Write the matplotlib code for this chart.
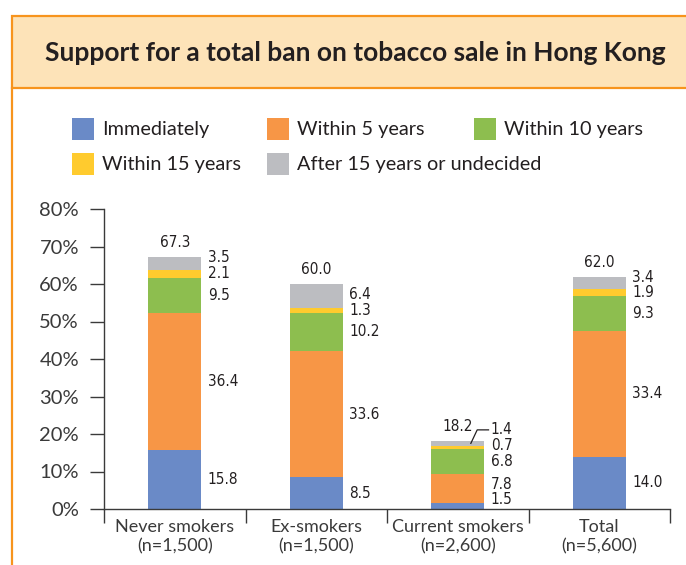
import numpy as np
import matplotlib.pyplot as plt
from matplotlib import font_manager as fm
from matplotlib.patches import Rectangle
from matplotlib.lines import Line2D

# ---------- data ----------
groups = ["Never smokers\n(n=1,500)", "Ex-smokers\n(n=1,500)",
          "Current smokers\n(n=2,600)", "Total\n(n=5,600)"]
series = ["Immediately", "Within 5 years", "Within 10 years",
          "Within 15 years", "After 15 years or undecided"]
immediately = [15.8, 8.5, 1.5, 14.0]
within_5 = [36.4, 33.6, 7.8, 33.4]
within_10 = [9.5, 10.2, 6.8, 9.3]
within_15 = [2.1, 1.3, 0.7, 1.9]
after_15 = [3.5, 6.4, 1.4, 3.4]
totals = [67.3, 60.0, 18.2, 62.0]

colors = ["#6a8ac7", "#f79646", "#8dbe4f", "#ffcb2e", "#bcbdc1"]
TEXT = "#231f20"
ORANGE = "#f7941d"
HEADER = "#fde3b8"

TXT_FONT = ["Lato", "DejaVu Sans"]

# narrow face for the small value labels, whichever is installed
_fonts = fm.fontManager.ttflist
_names = {f.name for f in _fonts}
if "Liberation Sans Narrow" in _names:
    NUM = dict(family="Liberation Sans Narrow")
elif "DejaVu Sans Condensed" in _names:
    NUM = dict(family="DejaVu Sans Condensed")
elif any(f.name == "DejaVu Sans" and f.stretch == "condensed" for f in _fonts):
    NUM = dict(family="DejaVu Sans", stretch="condensed")
else:
    NUM = dict(family="Roboto")

plt.rcParams.update({
    "font.family": TXT_FONT,
    "text.color": TEXT,
    "axes.edgecolor": "#3a3a3a",
    "xtick.color": "#3a3a3a",
    "ytick.color": "#3a3a3a",
})

fig = plt.figure(figsize=(6.86, 5.65), dpi=100)
W, H = 686, 565


def fx(px):
    return px / W


def fy(py):
    return 1 - py / H


# ---------- header band + frame ----------
fig.add_artist(Rectangle((fx(12), fy(88)), fx(700 - 12), fy(16) - fy(88),
                         transform=fig.transFigure, facecolor=HEADER,
                         edgecolor=ORANGE, lw=1.6, clip_on=False))
fig.add_artist(Line2D([fx(12), fx(12)], [fy(88), 0], transform=fig.transFigure,
                      color=ORANGE, lw=1.6))
fig.text(fx(355), fy(53), "Support for a total ban on tobacco sale in Hong Kong",
         ha="center", va="center", fontsize=19, fontweight="bold")

# ---------- legend ----------
leg_cols = [72, 267, 474]
leg_rows = [129, 164]
for i, (name, c) in enumerate(zip(series, colors)):
    r, k = divmod(i, 3)
    x0, yc = leg_cols[k], leg_rows[r]
    fig.add_artist(Rectangle((fx(x0), fy(yc + 11)), fx(22), fy(yc - 11) - fy(yc + 11),
                             transform=fig.transFigure, facecolor=c, edgecolor="none"))
    fig.text(fx(x0 + 30), fy(yc), name, ha="left", va="center", fontsize=14.3)

# ---------- stacked bars ----------
ax = fig.add_axes([fx(104), fy(509), fx(670) - fx(104), fy(209) - fy(509)])
x = np.arange(len(groups))
bw = 0.375
stack = [immediately, within_5, within_10, within_15, after_15]
bottom = np.zeros(len(groups))
for vals, c in zip(stack, colors):
    ax.bar(x, vals, bw, bottom=bottom, color=c, edgecolor="none", zorder=2)
    bottom += np.array(vals)

# segment value labels, pushed apart where segments are thin
min_gap, min_y = 4.2, 2.4
for i in range(len(groups)):
    base, prev = 0.0, None
    xr = x[i] + bw / 2
    for vals in stack:
        v = vals[i]
        mid = base + v / 2
        ly = max(mid, min_y) if prev is None else max(mid, prev + min_gap)
        ax.text(xr + 0.045, ly, f"{v:.1f}", ha="left", va="center",
                fontsize=11, **NUM)
        if ly - mid > 2.5:
            ax.plot([xr - 0.095, xr - 0.05, xr + 0.03], [mid, ly, ly],
                    color=TEXT, lw=0.9, zorder=3, clip_on=False)
        prev = ly
        base += v
    ax.annotate(f"{totals[i]:.1f}", (x[i], totals[i]), xytext=(0, 5),
                textcoords="offset points", ha="center", va="bottom",
                fontsize=11, **NUM)

ax.set_xlim(-0.5, len(groups) - 0.5)
ax.set_ylim(0, 80)
ax.set_yticks(np.arange(0, 81, 10))
ax.set_yticklabels([f"{t}%" for t in range(0, 81, 10)], fontsize=14.5)
ax.tick_params(axis="y", direction="out", length=10, width=1, pad=8)
ax.set_xticks(x)
ax.set_xticklabels(groups, fontsize=13, linespacing=1.25)
ax.set_xticks(np.arange(-0.5, len(groups), 1), minor=True)
ax.tick_params(axis="x", which="major", length=0, pad=7)
ax.tick_params(axis="x", which="minor", direction="out", length=10, width=1)
for s in ["top", "right"]:
    ax.spines[s].set_visible(False)
ax.spines["left"].set_linewidth(1)
ax.spines["bottom"].set_linewidth(1)
ax.spines["bottom"].set_bounds(-0.5, len(groups) - 0.5)

fig.savefig("out.png", dpi=100)
